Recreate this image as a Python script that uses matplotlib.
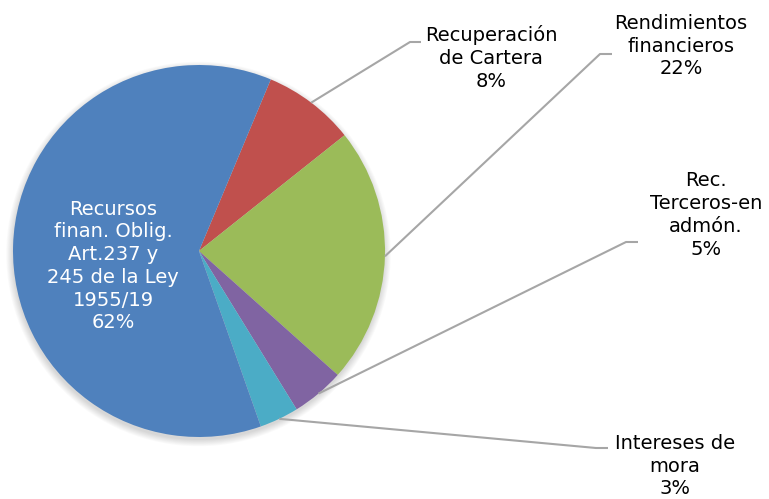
import matplotlib
matplotlib.use("Agg")
import matplotlib.pyplot as plt
from matplotlib.patches import Circle
import numpy as np

categories = ["Recuperación\nde Cartera", "Rendimientos\nfinancieros", "Rec.\nTerceros-en\nadmón.",
              "Intereses de\nmora", "Recursos\nfinan. Oblig.\nArt.237 y\n245 de la Ley\n1955/19"]
values = [8.0, 22.3, 4.6, 3.4, 61.7]
pct_labels = ["8%", "22%", "5%", "3%", "62%"]
colors = ["#C0504D", "#9BBB59", "#8064A2", "#4BACC6", "#4F81BD"]

W, H = 769, 499
fig = plt.figure(figsize=(W / 100, H / 100), dpi=100)
ax = fig.add_axes([0, 0, 1, 1])

cx, cy, R = 199, H - 251, 186

# soft shadow
for i in range(8):
    ax.add_patch(Circle((cx - 0.5, cy - 3), R + i * 0.9, color="black", alpha=0.02, lw=0, zorder=0))

wedges, _ = ax.pie(values, colors=colors, startangle=67.3, counterclock=False,
                   center=(cx, cy), radius=R, frame=True,
                   wedgeprops=dict(linewidth=0, zorder=2))

# label positions (pixel coords, y from top) and leader elbows
label_pos = [(491, 58), (681, 46), (706, 215), (675, 466), (113, 266)]
elbows = [((410, 42), (421, 42)), ((600, 54), (612, 54)), ((626, 242), (638, 242)),
          ((596, 448), (608, 448)), None]

for w, cat, pct, pos, elb in zip(wedges, categories, pct_labels, label_pos, elbows):
    txt = f"{cat}\n{pct}"
    col = "white" if elb is None else "black"
    ax.text(pos[0], H - pos[1], txt, ha="center", va="center", fontsize=14,
            color=col, linespacing=1.25, zorder=5)
    if elb is None:
        continue
    mid = np.deg2rad((w.theta1 + w.theta2) / 2)
    px, py = cx + R * np.cos(mid), cy + R * np.sin(mid)
    (ex, ey), (hx, hy) = elb
    ax.plot([px, ex, hx], [py, H - ey, H - hy], color="#A6A6A6", lw=1.5, zorder=3,
            solid_capstyle="butt")

ax.set_xlim(0, W)
ax.set_ylim(0, H)
ax.set_aspect("equal")
ax.axis("off")
fig.savefig("out.png", dpi=100)
